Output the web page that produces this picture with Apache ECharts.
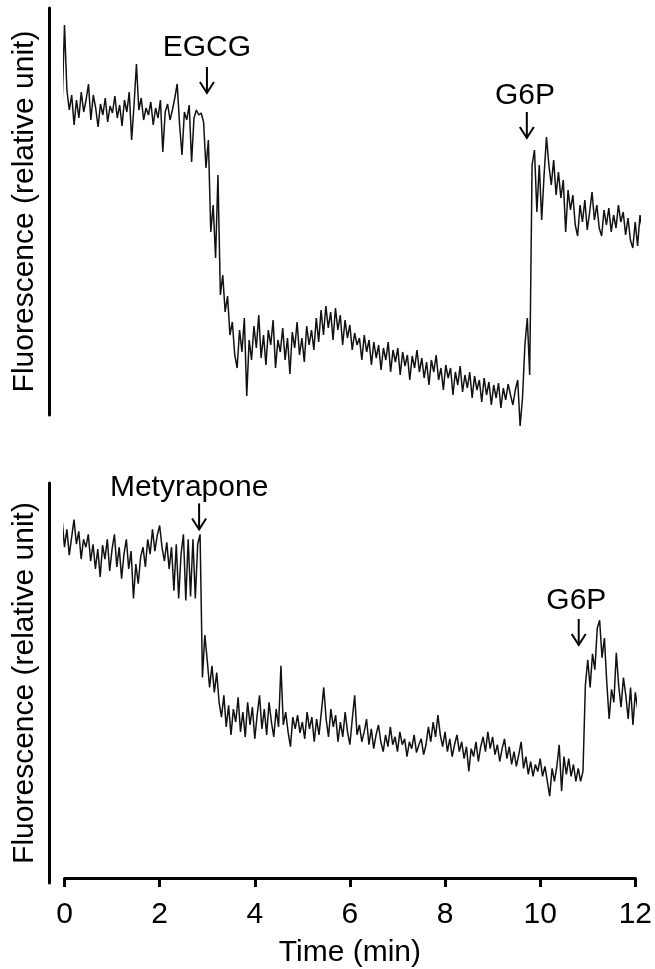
<!DOCTYPE html>
<html>
<head>
<meta charset="utf-8">
<script src="https://cdn.jsdelivr.net/npm/echarts@6/dist/echarts.min.js"></script>
<style>html,body{margin:0;padding:0;background:#fff}#c{width:655px;height:969px}</style>
</head>
<body>
<div id="c"></div>
<script>
// sampling: first sample time and sampling interval (min)
const T0 = -0.1, DT = 0.05;

// Top panel (EGCG then G6P), fluorescence in relative units
const topFluor = [
360,310,390,325,305,320,290,315,297,323,
303,315,331,295,320,307,288,311,300,317,
293,309,302,319,297,310,289,315,303,323,
275,310,351,305,317,295,307,300,313,290,
307,297,315,263,303,311,295,305,317,331,
290,260,303,295,310,253,297,305,300,302,
293,247,275,183,210,157,240,120,140,103,
119,80,93,60,47,85,63,97,19,75,
55,89,67,100,57,80,50,85,70,95,
47,75,63,87,55,77,41,83,67,93,
60,77,53,89,70,85,65,97,73,105,
80,109,87,103,75,107,85,100,70,95,
77,90,65,82,70,77,55,80,63,75,
50,73,57,70,45,67,55,73,43,65,
53,67,40,63,49,60,35,59,47,65,
43,57,37,53,30,55,43,60,35,47,
25,50,37,47,20,43,30,49,23,40,
27,43,17,39,25,35,13,37,20,33,
10,30,17,32,7,27,15,31,20,10,
25,35,-11,17,70,97,40,250,265,203,
250,195,240,278,250,230,255,220,243,217,
235,183,225,205,220,190,179,210,193,215,
185,203,223,195,210,187,179,205,190,207,
183,200,187,210,193,203,180,197,175,167,
193,169,200,185,203,187,197,190
];

// Bottom panel (Metyrapone then G6P)
const bottomFluor = [
328,368,340,358,332,350,368,343,356,328,
348,340,353,326,343,318,338,310,342,328,
348,316,338,353,320,340,308,333,348,318,
336,288,323,303,330,340,320,348,333,358,
336,352,362,340,326,345,318,340,296,343,
288,333,353,286,348,290,348,288,343,353,
208,251,226,198,220,193,213,183,168,190,
158,180,150,176,163,188,153,173,148,183,
160,178,146,170,190,156,176,150,183,163,
148,176,158,220,160,173,153,138,168,156,
170,152,163,146,173,156,168,143,166,150,
173,198,166,148,176,158,170,143,163,148,
173,153,140,166,190,150,160,143,153,166,
140,156,136,150,160,143,133,150,138,158,
140,148,133,153,140,146,128,143,136,150,
132,140,146,130,140,158,143,163,148,170,
150,138,153,133,146,128,140,150,133,143,
126,138,113,136,128,143,123,138,148,133,
153,136,148,130,140,123,136,146,126,138,
120,133,118,130,143,116,128,110,123,108,
120,113,126,108,118,103,88,116,103,118,
140,93,128,110,126,108,120,103,116,103,
113,200,226,198,232,216,258,266,228,248,
203,166,196,183,233,200,178,208,190,166,
198,160,193,176,188,170
];

const xTicks = {min: 0, max: 12, interval: 2};
const topRange = {min: 0, max: 407};
const bottomRange = {min: 0, max: 405};

// annotations
const topLabelText = ['EGCG', 'G6P'];
const topLabelPos = [[2.97, 367.5], [9.60, 319]];
const topArrows = [[2.97, 322], [9.64, 277]];
const bottomLabelText = ['Metyrapone', 'G6P'];
const bottomLabelPos = [[2.62, 400], [10.76, 285.5]];
const bottomArrows = [[2.83, 358], [10.81, 241]];

const FONT = 'Liberation Sans, Arial, sans-serif';
const FS = 30;

function toSeries(vals) { return vals.map((v, i) => [T0 + i * DT, v]); }

function arrowItem(params, api) {
  const p = api.coord([api.value(0), api.value(1)]);
  return {
    type: 'group',
    children: [
      {type: 'line', shape: {x1: p[0], y1: p[1] - 26, x2: p[0], y2: p[1]}, style: {stroke: '#000', lineWidth: 2}},
      {type: 'polyline', shape: {points: [[p[0] - 7, p[1] - 11], [p[0], p[1]], [p[0] + 7, p[1] - 11]]}, style: {stroke: '#000', lineWidth: 2, fill: null}}
    ]
  };
}
function makeLabelItem(texts) {
  return function (params, api) {
    const p = api.coord([api.value(0), api.value(1)]);
    return {
      type: 'text', x: p[0], y: p[1],
      style: {text: texts[params.dataIndex], font: FS + 'px ' + FONT, fill: '#000', align: 'center', verticalAlign: 'middle'}
    };
  };
}

const yName = 'Fluorescence (relative unit)';
function yAxis(idx, range) {
  return {
    type: 'value', gridIndex: idx, min: range.min, max: range.max, offset: 15,
    axisLine: {show: true, onZero: false, lineStyle: {color: '#000', width: 3}},
    axisTick: {show: false}, axisLabel: {show: false}, splitLine: {show: false},
    name: yName, nameLocation: 'middle', nameRotate: 90, nameGap: 10,
    nameTextStyle: {fontFamily: FONT, fontSize: FS, color: '#000'}
  };
}

const chart = echarts.init(document.getElementById('c'), null, {renderer: 'canvas'});
chart.setOption({
  animation: false,
  backgroundColor: '#fff',
  grid: [
    {left: 64.5, right: 15, top: 8, height: 407},
    {left: 64.5, right: 15, top: 483, height: 405}
  ],
  xAxis: [
    {type: 'value', gridIndex: 0, min: xTicks.min, max: xTicks.max, interval: xTicks.interval, show: false},
    {type: 'value', gridIndex: 1, min: xTicks.min, max: xTicks.max, interval: xTicks.interval, offset: -5,
     axisLine: {show: true, onZero: false, lineStyle: {color: '#000', width: 3}},
     axisTick: {show: true, inside: false, length: 9, lineStyle: {color: '#000', width: 3}},
     axisLabel: {show: true, margin: 22, fontFamily: FONT, fontSize: FS, color: '#000'},
     splitLine: {show: false},
     name: 'Time (min)', nameLocation: 'middle', nameGap: 60,
     nameTextStyle: {fontFamily: FONT, fontSize: FS, color: '#000'}}
  ],
  yAxis: [yAxis(0, topRange), yAxis(1, bottomRange)],
  series: [
    {type: 'line', xAxisIndex: 0, yAxisIndex: 0, data: toSeries(topFluor), showSymbol: false, symbol: 'none', clip: false,
     lineStyle: {color: '#111', width: 1.5}},
    {type: 'line', xAxisIndex: 1, yAxisIndex: 1, data: toSeries(bottomFluor), showSymbol: false, symbol: 'none', clip: false,
     lineStyle: {color: '#111', width: 1.5}},
    {type: 'custom', xAxisIndex: 0, yAxisIndex: 0, data: topArrows, renderItem: arrowItem, silent: true},
    {type: 'custom', xAxisIndex: 1, yAxisIndex: 1, data: bottomArrows, renderItem: arrowItem, silent: true},
    {type: 'custom', xAxisIndex: 0, yAxisIndex: 0, data: topLabelPos, renderItem: makeLabelItem(topLabelText), silent: true},
    {type: 'custom', xAxisIndex: 1, yAxisIndex: 1, data: bottomLabelPos, renderItem: makeLabelItem(bottomLabelText), silent: true}
  ]
});
</script>
</body>
</html>
